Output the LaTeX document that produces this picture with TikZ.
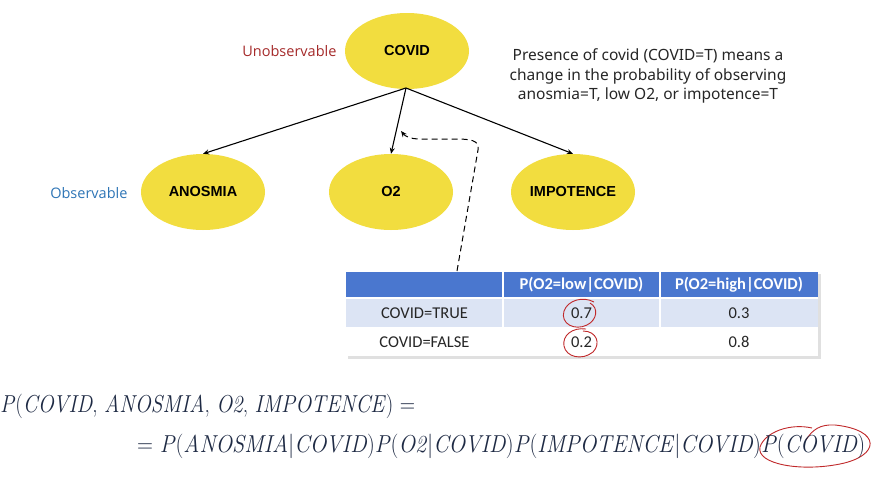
\documentclass[tikz,border=0pt]{standalone}
\usepackage{fontspec}
\setmainfont{Noto Sans}
\newfontfamily\carl{Carlito}
\newfontfamily\lsans{Liberation Sans}
\newfontfamily\opensans{Open Sans}
\newfontfamily\lmr{Latin Modern Roman}
\usetikzlibrary{arrows.meta,shapes.geometric}
\definecolor{nodeyellow}{HTML}{F2DD3F}
\definecolor{hdrblue}{HTML}{4A77CF}
\definecolor{rowblue}{HTML}{DCE4F4}
\definecolor{darkred}{HTML}{A52A2A}
\definecolor{obsblue}{HTML}{2E75B6}
\definecolor{penred}{HTML}{C0282A}
\definecolor{formula}{HTML}{1E2A44}
\newcommand{\iv}[1]{\textit{#1}}
\begin{document}
\begin{tikzpicture}[x=1pt,y=-1pt,
  var/.style={ellipse,fill=nodeyellow,minimum width=124pt,minimum height=76pt,inner sep=0pt,font=\lsans\bfseries\fontsize{14.5}{16}\selectfont},
  edge/.style={-{Stealth[length=6pt,width=5pt]},line width=1.1pt},
  cell/.style={minimum width=156pt,inner sep=0pt,font=\carl\fontsize{16.5}{18}\selectfont,text=black!85},
  hcell/.style={cell,text=white,font=\carl\bfseries\fontsize{16.5}{18}\selectfont},
  pen/.style={penred,line width=0.9pt},
  fml/.style={anchor=base west,inner sep=0pt,text=formula,font=\lmr\fontsize{24.5}{28}\selectfont}]
\useasboundingbox (0,0) rectangle (884,482);
\fill[white] (0,0) rectangle (884,482);
% nodes
\node[var] (covid) at (407,51) {COVID};
\node[var] (anosmia) at (203,192) {ANOSMIA};
\node[var] (o2) at (391,192) {O2};
\node[var] (impot) at (573,192) {IMPOTENCE};
\node[text=darkred,font=\opensans\fontsize{14.5}{16}\selectfont,anchor=east] (unobs) at (340,51) {Unobservable};
\node[text=obsblue,font=\opensans\fontsize{14.5}{16}\selectfont,anchor=east] (obs) at (131,193) {Observable};
\node[align=center,font=\fontsize{15.5}{19.5}\selectfont,text=black!85] (desc) at (648,76) {Presence of covid (COVID=T) means a\\change in the probability of observing\\anosmia=T, low O2, or impotence=T};
% edges
\coordinate (src) at (406,88);
\draw[edge] (src) -- (anosmia.north);
\draw[edge] (src) -- (o2.north);
\draw[edge] (src) -- (impot.north);
% table
\fill[black!12] (348,274) rectangle (821,359);
\fill[hdrblue] (346,272) rectangle (818,298);
\fill[rowblue] (346,298) rectangle (818,328);
\fill[white] (346,328) rectangle (818,356);
\draw[white,line width=1.2pt] (503,272) -- (503,356) (660,272) -- (660,356) (346,298) -- (818,298) (346,328) -- (818,328);
\node[hcell] (h2) at (581.5,285) {P(O2=low|COVID)};
\node[hcell] (h3) at (739,285) {P(O2=high|COVID)};
\node[cell] (r1) at (424.5,313) {COVID=TRUE};
\node[cell] (r1a) at (581.5,313) {0.7};
\node[cell] (r1b) at (739,313) {0.3};
\node[cell] (r2) at (424.5,342) {COVID=FALSE};
\node[cell] (r2a) at (581.5,342) {0.2};
\node[cell] (r2b) at (739,342) {0.8};
\coordinate (tabtop) at (457,271);
\coordinate (o2pt) at (401,131);
\draw[line width=1pt,dash pattern=on 6pt off 4pt,-{Stealth[length=6pt,width=5pt]}] (tabtop) -- (478,150) .. controls (480,140) and (470,139) .. (455,139) -- (420,139) .. controls (410,139) and (405,136) .. (o2pt);
% red pen circles
\draw[pen] (594,302) .. controls (583,296) and (568,300) .. (564,311) .. controls (560,324) and (575,331) .. (587,325) .. controls (597,320) and (599,308) .. (590,303);
\draw[pen] (586,329) .. controls (572,327) and (562,336) .. (564,346) .. controls (566,357) and (582,361) .. (593,352) .. controls (601,344) and (597,331) .. (583,331);
\draw[pen] (812,428) .. controls (790,423) and (765,432) .. (760,447) .. controls (756,464) and (800,472) .. (840,464) .. controls (880,456) and (882,430) .. (835,425) .. controls (820,424) and (812,430) .. (806,440);
% formula
\node[fml] (f1) at (0,412) {\resizebox{415pt}{\height}{\iv{P}(\iv{COVID}, \iv{ANOSMIA}, \iv{O2}, \iv{IMPOTENCE}) =}};
\node[fml] (f2) at (137,452) {\resizebox{728pt}{\height}{= \iv{P}(\iv{ANOSMIA}|\iv{COVID})\iv{P}(\iv{O2}|\iv{COVID})\iv{P}(\iv{IMPOTENCE}|\iv{COVID})\iv{P}(\iv{COVID})}};
\end{tikzpicture}
\end{document}
